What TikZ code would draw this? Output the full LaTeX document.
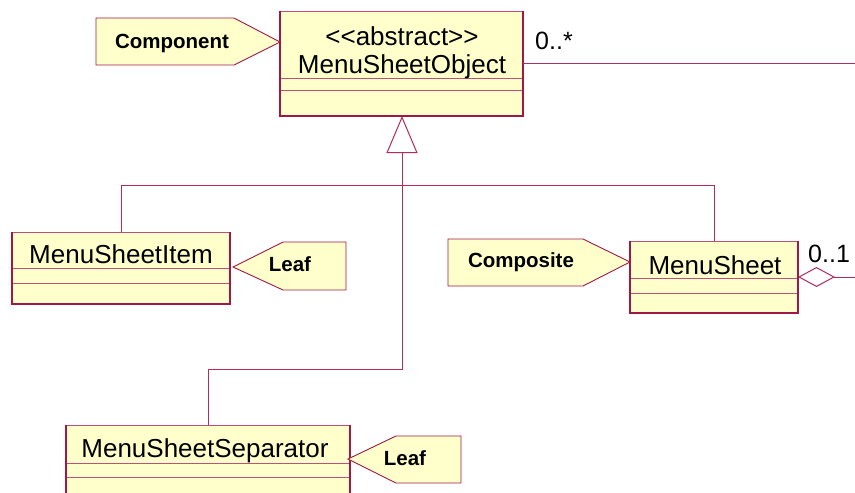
\documentclass[tikz,border=0pt]{standalone}
\usepackage{fontspec}
\setmainfont{Liberation Sans}[Ligatures=TeXOff]
\usetikzlibrary{arrows.meta}
\definecolor{fillY}{HTML}{FFFFCC}
\definecolor{edge}{HTML}{A01848}
\definecolor{edgeL}{HTML}{C0507A}
\definecolor{conn}{HTML}{B02C5C}
\tikzset{
  x=1pt, y=-1pt,
  clsbox/.style={draw=edgeL, line width=1pt, fill=fillY, inner sep=0pt, outer sep=0pt},
  clsedge/.style={draw=edge, line width=1.6pt},
  divider/.style={draw=edgeL, line width=0.9pt},
  clsname/.style={font=\fontsize{26}{28}\selectfont, anchor=base, inner sep=0pt},
  notebox/.style={draw=edge, line width=0.9pt, fill=fillY},
  notetext/.style={font=\fontsize{20.5}{22}\selectfont\bfseries, anchor=base, inner sep=0pt},
  mult/.style={font=\fontsize{25}{27}\selectfont, anchor=base west, inner sep=0pt},
  conline/.style={draw=conn, line width=1pt},
}
\begin{document}
\begin{tikzpicture}
\useasboundingbox (0,0) rectangle (855,493);
\fill[white] (0,0) rectangle (855,493);

% ---- MenuSheetObject ----
\node[clsbox, minimum width=243pt, minimum height=105pt] (mso) at (401.5,63.5) {};
\draw[divider] (280,78) -- (523,78);
\draw[divider] (280,90) -- (523,90);
\draw[clsedge] (mso.north west) -- (mso.south west) -- (mso.south east) -- (mso.north east);
\node[clsname] (msoster) at (402,45) {<<abstract>>};
\node[clsname] (msoname) at (402,73) {MenuSheetObject};

% ---- MenuSheetItem ----
\node[clsbox, minimum width=218pt, minimum height=72pt] (item) at (121,268) {};
\draw[divider] (12,268) -- (230,268);
\draw[divider] (12,283) -- (230,283);
\draw[clsedge] (item.north west) -- (item.south west) -- (item.south east) -- (item.north east);
\node[clsname] (itemname) at (121,263) {MenuSheetItem};

% ---- MenuSheet ----
\node[clsbox, minimum width=168pt, minimum height=72pt] (sheet) at (714,277) {};
\draw[divider] (630,278) -- (798,278);
\draw[divider] (630,293) -- (798,293);
\draw[clsedge] (sheet.north west) -- (sheet.south west) -- (sheet.south east) -- (sheet.north east);
\node[clsname] (sheetname) at (715,274) {MenuSheet};

% ---- MenuSheetSeparator ----
\node[clsbox, minimum width=284pt, minimum height=80pt] (sep) at (208,465) {};
\draw[divider] (66,463) -- (350,463);
\draw[divider] (66,477) -- (350,477);
\draw[clsedge] (sep.south west) -- (sep.north west);
\draw[clsedge] (sep.south east) -- (sep.north east);
\node[clsname] (sepname) at (205,457) {MenuSheetSeparator};

% ---- notes ----
\draw[notebox] (96,18) -- (234,18) -- (280,42) -- (234,65) -- (96,65) -- cycle;
\node[notetext] (ncomp) at (172,48) {Component};

\draw[notebox] (346,242) -- (283,242) -- (233,267) -- (283,290) -- (346,290) -- cycle;
\node[notetext] (nleaf1) at (290,271) {Leaf};

\draw[notebox] (448,239) -- (583,239) -- (630,262) -- (583,286) -- (448,286) -- cycle;
\node[notetext] (ncomposite) at (521,267) {Composite};

\draw[notebox] (461,436) -- (396,436) -- (348,459) -- (396,483) -- (461,483) -- cycle;
\node[notetext] (nleaf2) at (405,465) {Leaf};

% ---- generalization tree ----
\coordinate (jtop) at (402,185);
\coordinate (jsep) at (402,369);
\draw[conline] (item.north) |- (jtop);
\draw[conline] (sheet.north) |- (jtop);
\draw[conline, -{Triangle[open, length=37pt, width=31pt, fill=white]}]
  (sep.north) |- (jsep) -- (mso.south -| jsep);

% ---- aggregation ----
\coordinate (e1) at (855,63);
\coordinate (e2) at (855,277);
\draw[conline] (mso.east |- e1) -- (e1);
\draw[conline, {Diamond[open, length=37pt, width=20pt, fill=white]}-] (sheet.east) -- (e2);
\node[mult] (m1) at (535,49) {0..*};
\node[mult] (m2) at (808,262) {0..1};
\end{tikzpicture}
\end{document}
